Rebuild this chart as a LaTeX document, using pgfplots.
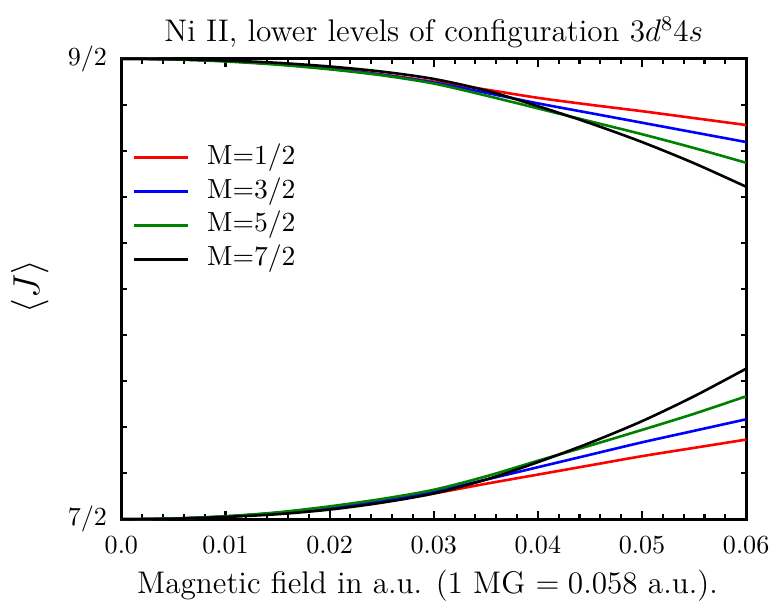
\documentclass[border=0pt]{standalone}
\usepackage{pgfplots}
\pgfplotsset{compat=1.18}
\definecolor{dgreen}{RGB}{0,128,0}
\begin{document}
\begin{tikzpicture}
\begin{axis}[
  scale only axis,
  clip=false,
  width=239.7pt, height=176.7pt,
  xmin=0, xmax=0.06, ymin=3.5, ymax=4.5,
  scaled x ticks=false,
  xtick={0,0.01,0.02,0.03,0.04,0.05,0.06},
  xticklabels={$0.0$,$0.01$,$0.02$,$0.03$,$0.04$,$0.05$,$0.06$},
  minor x tick num=4,
  ytick={3.5,4.5},
  yticklabels={$7/2$,$9/2$},
  minor ytick={3.6,3.7,3.8,3.9,4.0,4.1,4.2,4.3,4.4},
  tick align=inside,
  major tick length=3pt, minor tick length=2pt,
  every tick/.style={black, line width=0.8pt},
  axis line style={line width=1.1pt},
  xticklabel style={yshift=-3pt, font=\normalsize},
  yticklabel style={xshift=-2pt, font=\normalsize},
  xlabel={Magnetic field in a.u. (1 MG $=0.058$ a.u.).},
  xlabel style={at={(rel axis cs:0.49,-0.1447)}, anchor=center, font=\large},
  ylabel={$\langle J\rangle$},
  ylabel style={at={(rel axis cs:-0.1465,0.505)}, anchor=center, font=\Large},
  legend cell align=left,
  legend style={draw=none, fill=none, inner sep=0pt, at={(rel axis cs:0.0177,0.823)}, anchor=north west,
    font=\fontsize{10.6}{12.5}\selectfont, row sep=0pt, nodes={inner sep=1.5pt, text height=7.5pt, text depth=2.5pt}},
  legend image code/.code={\draw[#1, line width=1pt] (0pt,0pt) -- (20.5pt,0pt); \path (26pt,0pt);},
  every axis plot/.append style={line width=1pt, smooth},
]
% upper branch
\addplot[red] coordinates {(0,4.5) (0.005,4.4987) (0.01,4.495) (0.015,4.4885) (0.02,4.479) (0.025,4.466) (0.03,4.450) (0.035,4.433) (0.04,4.415) (0.045,4.400) (0.05,4.386) (0.055,4.371) (0.06,4.356)};
\addlegendentry{M=1/2}
\addplot[blue] coordinates {(0,4.5) (0.005,4.4987) (0.01,4.495) (0.015,4.488) (0.02,4.478) (0.025,4.465) (0.03,4.448) (0.035,4.426) (0.04,4.403) (0.045,4.382) (0.05,4.361) (0.055,4.340) (0.06,4.319)};
\addlegendentry{M=3/2}
\addplot[dgreen] coordinates {(0,4.5) (0.005,4.4985) (0.01,4.494) (0.015,4.487) (0.02,4.477) (0.025,4.464) (0.03,4.446) (0.035,4.420) (0.04,4.392) (0.045,4.364) (0.05,4.336) (0.055,4.306) (0.06,4.274)};
\addlegendentry{M=5/2}
\addplot[black] coordinates {(0,4.5) (0.005,4.499) (0.01,4.496) (0.015,4.491) (0.02,4.483) (0.025,4.472) (0.03,4.456) (0.035,4.431) (0.04,4.397) (0.045,4.360) (0.05,4.319) (0.055,4.273) (0.06,4.222)};
\addlegendentry{M=7/2}
% lower branch
\addplot[red, forget plot] coordinates {(0,3.5) (0.005,3.5015) (0.01,3.506) (0.015,3.513) (0.02,3.524) (0.025,3.538) (0.03,3.556) (0.035,3.577) (0.04,3.597) (0.045,3.617) (0.05,3.637) (0.055,3.655) (0.06,3.673)};
\addplot[blue, forget plot] coordinates {(0,3.5) (0.005,3.5015) (0.01,3.506) (0.015,3.514) (0.02,3.526) (0.025,3.541) (0.03,3.560) (0.035,3.586) (0.04,3.613) (0.045,3.640) (0.05,3.667) (0.055,3.692) (0.06,3.717)};
\addplot[dgreen, forget plot] coordinates {(0,3.5) (0.005,3.5016) (0.01,3.5065) (0.015,3.515) (0.02,3.528) (0.025,3.544) (0.03,3.564) (0.035,3.593) (0.04,3.627) (0.045,3.660) (0.05,3.694) (0.055,3.729) (0.06,3.767)};
\addplot[black, forget plot] coordinates {(0,3.5) (0.005,3.501) (0.01,3.505) (0.015,3.511) (0.02,3.521) (0.025,3.536) (0.03,3.556) (0.035,3.586) (0.04,3.624) (0.045,3.666) (0.05,3.713) (0.055,3.767) (0.06,3.827)};
\node[anchor=base, inner sep=0pt, font=\large] at (rel axis cs:0.5,1.0367) {Ni II, lower levels of configuration $3d^8 4s$};
\coordinate (bbsw) at (rel axis cs:-0.19427,-0.19222);
\coordinate (bbne) at (rel axis cs:1.04459,1.12743);
\end{axis}
\path (bbsw) rectangle (bbne);
\end{tikzpicture}
\end{document}
